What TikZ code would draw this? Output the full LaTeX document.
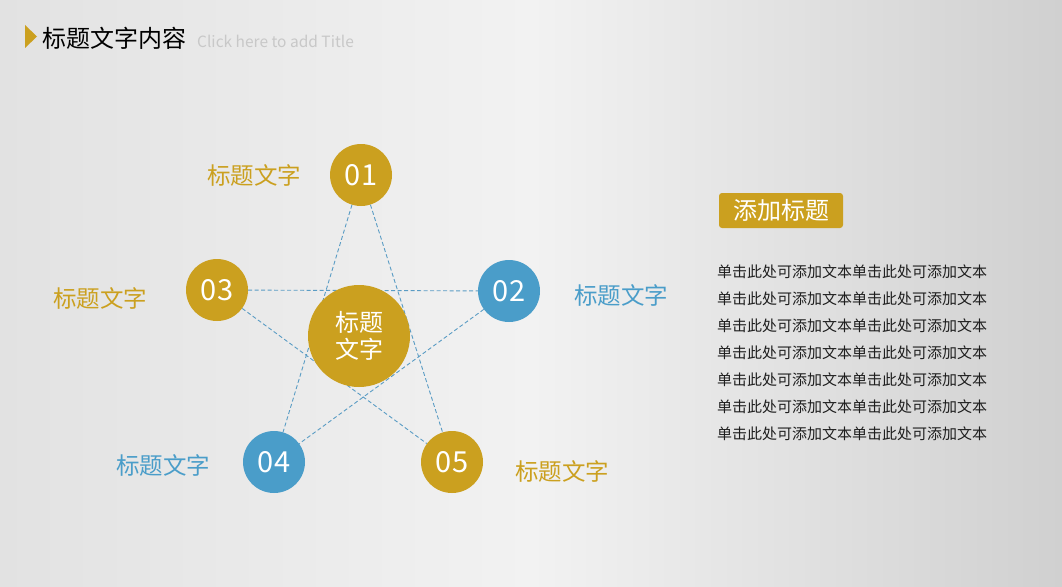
\documentclass[tikz,border=0pt]{standalone}
\usepackage{fontspec}
\setmainfont{Noto Sans CJK SC}
\usetikzlibrary{shapes.geometric}
\definecolor{gold}{HTML}{CBA01F}
\definecolor{blu}{HTML}{4A9DC9}
\definecolor{lnk}{HTML}{5A9CC4}
\definecolor{bgL}{HTML}{E2E2E2}
\definecolor{bgM}{HTML}{F2F2F2}
\definecolor{bgR}{HTML}{D0D0D0}
\definecolor{subtle}{HTML}{C8C8C8}
\definecolor{body}{HTML}{1E1E1E}
\tikzset{
  num/.style={circle, minimum size=62pt, inner sep=0pt, text=white, font=\fontsize{29}{29}\selectfont},
  goldc/.style={num, fill=gold},
  bluec/.style={num, fill=blu},
  lbl/.style={font=\fontsize{23.5}{23.5}\selectfont, inner sep=0pt},
  link/.style={draw=lnk, line width=0.9pt, dash pattern=on 4pt off 2.5pt},
  bodyline/.style={font=\fontsize{15}{15}\selectfont, text=body, anchor=west, inner sep=0pt}
}
\begin{document}
\begin{tikzpicture}[x=1pt,y=-1pt]
\useasboundingbox (0,0) rectangle (1062,586);
\shade[left color=bgL, right color=bgR, middle color=bgM] (0,0) rectangle (1062,586);
% title
\fill[gold] (25,25) -- (37,36.5) -- (25,48) -- cycle;
\node[anchor=west, inner sep=0pt, font=\fontsize{24}{24}\selectfont] (title) at (42,38) {标题文字内容};
\node[anchor=west, inner sep=0pt, text=subtle, font=\fontsize{15.5}{15.5}\selectfont] (sub) at (197,41) {Click here to add Title};
% circles
\node[goldc] (n1) at (361,175) {01};
\node[bluec] (n2) at (509,291) {02};
\node[goldc] (n3) at (217,290) {03};
\node[bluec] (n4) at (274,462) {04};
\node[goldc] (n5) at (452,462) {05};
\draw[link] (n1) -- (n4);
\draw[link] (n1) -- (n5);
\draw[link] (n3) -- (n2);
\draw[link] (n3) -- (n5);
\draw[link] (n2) -- (n4);
\node[circle, fill=gold, minimum size=102pt, inner sep=0pt, text=white, align=center, font=\fontsize{24}{27}\selectfont] (c) at (359,336) {标题\\文字};
% labels
\node[lbl, text=gold] (l1) at (254,175) {标题文字};
\node[lbl, text=blu] (l2) at (621,295) {标题文字};
\node[lbl, text=gold] (l3) at (100,298) {标题文字};
\node[lbl, text=blu] (l4) at (163,465) {标题文字};
\node[lbl, text=gold] (l5) at (562,471) {标题文字};
% right block
\node[fill=gold, rounded corners=3pt, minimum width=124pt, minimum height=35pt, inner sep=0pt, text=white, font=\fontsize{24}{24}\selectfont] (hd) at (781,210.5) {添加标题};
\foreach \i/\yy in {1/272,2/299,3/326,4/353,5/380,6/407,7/434}{
  \node[bodyline] (b\i) at (717,\yy) {单击此处可添加文本单击此处可添加文本};
}
\end{tikzpicture}
\end{document}
